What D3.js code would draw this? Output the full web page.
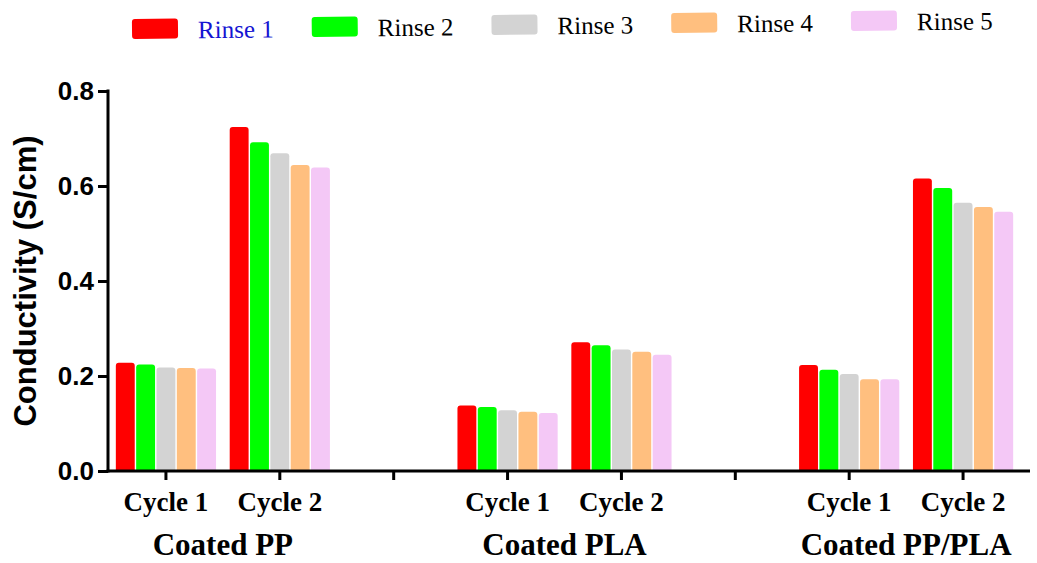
<!DOCTYPE html>
<html>
<head>
<meta charset="utf-8">
<script src="https://cdn.jsdelivr.net/npm/d3@7"></script>
<style>
  html, body { margin: 0; padding: 0; background: #fff; }
  svg { display: block; }
</style>
</head>
<body>
<svg id="chart" width="1037" height="563"></svg>
<script>
'use strict';
// data
var rinses = ['Rinse 1', 'Rinse 2', 'Rinse 3', 'Rinse 4', 'Rinse 5'];
var rinseColors = ['#ff0000', '#00ff00', '#d3d3d3', '#ffbf7f', '#f4c8f6'];
var materials = ['Coated PP', 'Coated PLA', 'Coated PP/PLA'];
var cycles = ['Cycle 1', 'Cycle 2'];
var yTicks = [0, 0.2, 0.4, 0.6, 0.8];
// conductivity (S/cm), rows = rinse 1..5
var ppCycle1 = [0.228, 0.224, 0.218, 0.217, 0.216];
var ppCycle2 = [0.724, 0.692, 0.669, 0.644, 0.639];
var plaCycle1 = [0.138, 0.135, 0.128, 0.125, 0.122];
var plaCycle2 = [0.271, 0.265, 0.256, 0.251, 0.245];
var blendCycle1 = [0.223, 0.213, 0.204, 0.193, 0.193];
var blendCycle2 = [0.616, 0.596, 0.565, 0.556, 0.546];

var groups = [
  {key: 'PP|1', material: 'Coated PP', cycle: 'Cycle 1', values: ppCycle1},
  {key: 'PP|2', material: 'Coated PP', cycle: 'Cycle 2', values: ppCycle2},
  {key: 'gap1', material: null, cycle: '', values: []},
  {key: 'PLA|1', material: 'Coated PLA', cycle: 'Cycle 1', values: plaCycle1},
  {key: 'PLA|2', material: 'Coated PLA', cycle: 'Cycle 2', values: plaCycle2},
  {key: 'gap2', material: null, cycle: '', values: []},
  {key: 'BL|1', material: 'Coated PP/PLA', cycle: 'Cycle 1', values: blendCycle1},
  {key: 'BL|2', material: 'Coated PP/PLA', cycle: 'Cycle 2', values: blendCycle2}
];

var svg = d3.select('#chart');
var axisX = 108, axisEnd = 1030;

var x = d3.scaleBand().domain(groups.map(function(g){return g.key;}))
          .range([109, 1020]).paddingInner(0.12).paddingOuter(0.06);
var xs = d3.scaleBand().domain(rinses).range([0, x.bandwidth()]).paddingInner(0.07);
var y = d3.scaleLinear().domain([0, 0.8]).range([471, 91]);
var color = d3.scaleOrdinal().domain(rinses).range(rinseColors);

// rounded-top bar
function barPath(x0, w, yTop, yBot){
  var r = Math.min(3, w/2, (yBot - yTop));
  return 'M' + x0 + ',' + yBot +
         'V' + (yTop + r) +
         'Q' + x0 + ',' + yTop + ' ' + (x0 + r) + ',' + yTop +
         'H' + (x0 + w - r) +
         'Q' + (x0 + w) + ',' + yTop + ' ' + (x0 + w) + ',' + (yTop + r) +
         'V' + yBot + 'Z';
}

//bars
var bars = svg.append('g').attr('id', 'bars');
bars.selectAll('g')
    .data(groups)
    .enter()
    .append('g')
    .attr('transform', function(g){return 'translate(' + x(g.key) + ',0)';})
    .selectAll('path')
    .data(function(g){return g.values.map(function(v, i){return {rinse: rinses[i], value: v};});})
    .enter()
    .append('path')
    .attr('d', function(d){return barPath(xs(d.rinse), xs.bandwidth(), y(d.value), y(0));})
    .style('fill', function(d){return color(d.rinse);});

// y axis
var yAxis = d3.axisLeft(y).tickValues(yTicks).tickFormat(d3.format('.1f'))
              .tickSize(10).tickSizeOuter(0).tickPadding(4);
var gy = svg.append('g').attr('id', 'yaxis')
            .attr('transform', 'translate(' + axisX + ',0)')
            .call(yAxis);
gy.select('.domain').remove();
gy.selectAll('line').attr('stroke', '#000').attr('stroke-width', 3);
gy.selectAll('text')
  .style('font-family', '"Liberation Sans", Arial, sans-serif')
  .style('font-weight', 'bold')
  .style('font-size', '26px')
  .attr('fill', '#000');
svg.append('line')
   .attr('x1', axisX).attr('x2', axisX)
   .attr('y1', y(0.8) - 1.5).attr('y2', y(0) + 1.5)
   .attr('stroke', '#000').attr('stroke-width', 3);

svg.append('text')
   .attr('transform', 'translate(36,' + (y(0.4)) + ') rotate(-90)')
   .attr('text-anchor', 'middle')
   .style('font-family', '"Liberation Sans", Arial, sans-serif')
   .style('font-weight', 'bold')
   .style('font-size', '31px')
   .text('Conductivity (S/cm)');

// x axis
var xAxis = d3.axisBottom(x)
              .tickFormat(function(k){return groups.find(function(g){return g.key === k;}).cycle;})
              .tickSize(9).tickSizeOuter(0);
var gx = svg.append('g').attr('id', 'xaxis')
            .attr('transform', 'translate(0,' + y(0) + ')')
            .call(xAxis);
gx.select('.domain').remove();
gx.selectAll('line').attr('stroke', '#000').attr('stroke-width', 3);
gx.selectAll('text')
  .attr('y', 40).attr('dy', null)
  .style('font-family', '"Liberation Serif", "Times New Roman", serif')
  .style('font-weight', 'bold')
  .style('font-size', '27px')
  .attr('fill', '#000');
svg.append('line')
   .attr('x1', axisX - 1.5).attr('x2', axisEnd)
   .attr('y1', y(0)).attr('y2', y(0))
   .attr('stroke', '#000').attr('stroke-width', 3);

// material labels
svg.append('g').attr('id', 'materials')
   .selectAll('text')
   .data(materials)
   .enter()
   .append('text')
   .attr('x', function(m){
       var ks = groups.filter(function(g){return g.material === m;}).map(function(g){return x(g.key) + x.bandwidth()/2;});
       return d3.mean(ks);
   })
   .attr('y', 555)
   .attr('text-anchor', 'middle')
   .style('font-family', '"Liberation Serif", "Times New Roman", serif')
   .style('font-weight', 'bold')
   .style('font-size', '31px')
   .text(function(m){return m;});

// legend
var lx = d3.scalePoint().domain(rinses).range([132, 851]);
var legend = svg.append('g').attr('id', 'legend')
                .attr('transform', 'rotate(-0.64,132,29)');
var items = legend.selectAll('g')
                  .data(rinses)
                  .enter()
                  .append('g')
                  .attr('transform', function(r){return 'translate(' + lx(r) + ',19)';});
items.append('rect')
     .attr('width', 46).attr('height', 20).attr('rx', 3)
     .style('fill', function(r){return color(r);});
items.append('text')
     .attr('x', 66).attr('y', 20)
     .style('font-family', '"Liberation Serif", "Times New Roman", serif')
     .style('font-size', '25px')
     .style('fill', function(r, i){return i === 0 ? '#1414d2' : '#000';})
     .text(function(r){return r;});
</script>
</body>
</html>
